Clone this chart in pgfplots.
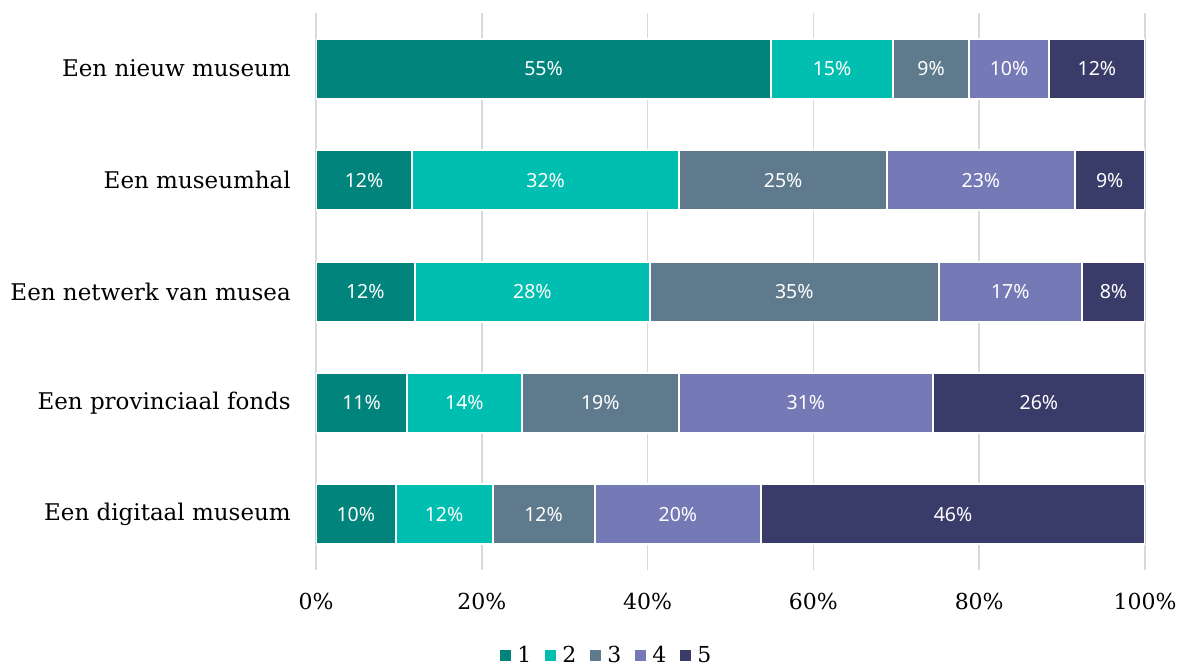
\documentclass[border=0pt]{standalone}
\usepackage{fontspec}
\setmainfont{DejaVu Serif}
\newfontfamily\barfont{Noto Sans}
\usepackage{pgfplots}
\pgfplotsset{compat=1.18}

\definecolor{c1}{HTML}{00847B}
\definecolor{c2}{HTML}{00BEB0}
\definecolor{c3}{HTML}{5F7A8D}
\definecolor{c4}{HTML}{7579B6}
\definecolor{c5}{HTML}{393C69}

\begin{document}
\begin{tikzpicture}
\begin{axis}[
    xbar stacked,
    scale only axis,
    width=829pt, height=557pt,
    xmin=0, xmax=100,
    ymin=-0.5, ymax=4.5,
    y dir=reverse,
    bar width=60pt,
    axis line style={draw=none},
    major tick length=0pt,
    xmajorgrids,
    grid style={color=black!15, line width=1.6pt},
    xtick={0,20,...,100},
    xticklabels={0\%,20\%,40\%,60\%,80\%,100\%},
    ytick={0,...,4},
    yticklabels={Een nieuw museum,Een museumhal,Een netwerk van musea,Een provinciaal fonds,Een digitaal museum},
    xticklabel style={font=\fontsize{22}{26}\selectfont, inner sep=0pt, yshift=-23pt},
    yticklabel style={font=\fontsize{23}{27}\selectfont, inner sep=0pt, xshift=-25pt},
    point meta=explicit symbolic,
    nodes near coords={\pgfplotspointmeta\%},
    every node near coord/.append style={font=\barfont\fontsize{19.5}{22}\selectfont,
        text=white, anchor=center},
    every axis plot/.append style={draw=white, line width=2pt},
    legend style={draw=none, fill=none, legend columns=5,
        at={(rel axis cs:0.351,-0.153)}, anchor=center,
        font=\fontsize{22}{26}\selectfont,
        /tikz/every odd column/.append style={column sep=4pt},
        /tikz/every even column/.append style={column sep=12pt}},
    legend image code/.code={\fill[#1,draw=none] (0pt,-5.5pt) rectangle (11pt,5.5pt);},
]
\addplot[fill=c1] table[x=v, y=k, meta=l] {
k v l
0 54.9 55
1 11.6 12
2 11.9 12
3 11.0 11
4 9.6 10
};
\addplot[fill=c2] table[x=v, y=k, meta=l] {
k v l
0 14.7 15
1 32.2 32
2 28.4 28
3 13.8 14
4 11.7 12
};
\addplot[fill=c3] table[x=v, y=k, meta=l] {
k v l
0 9.2 9
1 25.1 25
2 34.8 35
3 19.0 19
4 12.3 12
};
\addplot[fill=c4] table[x=v, y=k, meta=l] {
k v l
0 9.6 10
1 22.6 23
2 17.3 17
3 30.6 31
4 20.1 20
};
\addplot[fill=c5] table[x=v, y=k, meta=l] {
k v l
0 11.6 12
1 8.5 9
2 7.6 8
3 25.6 26
4 46.3 46
};
\legend{1,2,3,4,5}
\end{axis}
\pgfresetboundingbox
\path[use as bounding box] (-316pt,-98pt) rectangle (870pt,570pt);
\end{tikzpicture}
\end{document}
